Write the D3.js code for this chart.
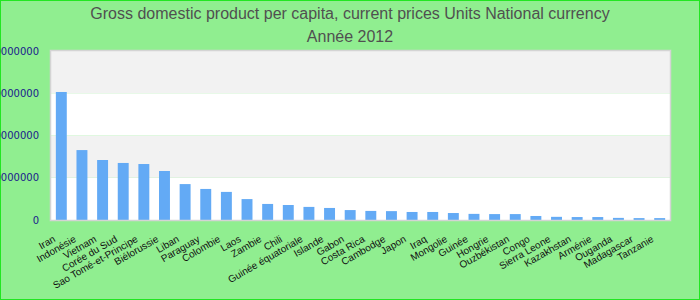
<!DOCTYPE html>
<html>
<head>
<meta charset="utf-8">
<script src="https://cdn.jsdelivr.net/npm/d3@7"></script>
<style>
  body { margin: 0; padding: 0; }
  svg { display: block; }
</style>
</head>
<body>
<div id="chart"></div>
<script>
'use strict';

// chart data
var countries = ["Iran", "Indonésie", "Vietnam", "Corée du Sud", "Sao Tomé-et-Principe",
  "Biélorussie", "Liban", "Paraguay", "Colombie", "Laos", "Zambie", "Chili",
  "Guinée équatoriale", "Islande", "Gabon", "Costa Rica", "Cambodge", "Japon", "Iraq",
  "Mongolie", "Guinée", "Hongrie", "Ouzbékistan", "Congo", "Sierra Leone", "Kazakhstan",
  "Arménie", "Ouganda", "Madagascar", "Tanzanie"];
var gdpValues = [60600000, 33100000, 28400000, 27000000, 26500000,
  23200000, 17000000, 14700000, 13300000, 9900000, 7600000, 7100000,
  6200000, 5700000, 4700000, 4300000, 4200000, 3800000, 3800000,
  3300000, 2900000, 2800000, 2800000, 1900000, 1500000, 1400000,
  1400000, 1000000, 900000, 900000];
var yTicks = [0, 20000000, 40000000, 60000000, 80000000];
var titleLines = ["Gross domestic product per capita, current prices Units National currency", "Année 2012"];

var W = 700, H = 300;
var plot = {left: 51, top: 51, right: 670, bottom: 220};

var svg = d3.select("#chart").append("svg")
  .attr("width", W)
  .attr("height", H);

// page background + border
svg.append("rect")
  .attr("x", 0.5).attr("y", 0.5)
  .attr("width", W - 1).attr("height", H - 1)
  .attr("fill", "#90ee90")
  .attr("stroke", "#22e622")
  .attr("stroke-width", 1);

// title
svg.append("g").selectAll("text")
  .data(titleLines)
  .enter().append("text")
    .attr("x", 350)
    .attr("y", function(d, i) { return 19 + i * 23; })
    .attr("text-anchor", "middle")
    .attr("font-family", "Arial, 'Liberation Sans', sans-serif")
    .attr("font-size", 16)
    .attr("fill", "#505050")
    .text(function(d) { return d; });

// scales
var x = d3.scaleBand()
  .domain(countries)
  .range([plot.left, plot.right])
  .paddingInner(0.47)
  .paddingOuter(0.235);

var y = d3.scaleLinear()
  .domain([0, 80000000])
  .range([plot.bottom, plot.top]);

// alternating bands
var bands = d3.pairs(yTicks);
svg.append("g").selectAll("rect")
  .data(bands)
  .enter().append("rect")
    .attr("x", plot.left)
    .attr("y", function(d) { return y(d[1]); })
    .attr("width", plot.right - plot.left)
    .attr("height", function(d) { return y(d[0]) - y(d[1]); })
    .attr("fill", function(d, i) { return i % 2 === 0 ? "#ffffff" : "#f2f2f2"; });

// bars
svg.append("g").selectAll("rect")
  .data(gdpValues)
  .enter().append("rect")
    .attr("x", function(d, i) { return x(countries[i]); })
    .attr("y", function(d) { return y(d); })
    .attr("width", x.bandwidth())
    .attr("height", function(d) { return y(0) - y(d); })
    .attr("fill", "#63aaf5");

// plot frame
svg.append("rect")
  .attr("x", plot.left - 0.5)
  .attr("y", plot.top - 0.5)
  .attr("width", plot.right - plot.left + 1)
  .attr("height", plot.bottom - plot.top + 1)
  .attr("fill", "none")
  .attr("stroke", "#d4d4d4")
  .attr("stroke-width", 1.5);

// y axis
var yAxis = svg.append("g")
  .attr("transform", "translate(" + plot.left + ",0)")
  .call(d3.axisLeft(y).tickValues(yTicks).tickFormat(d3.format("d")).tickSize(0).tickPadding(12));
yAxis.select(".domain").remove();
yAxis.selectAll("text")
  .attr("font-family", "'DejaVu Sans', Verdana, sans-serif")
  .attr("font-size", 10)
  .attr("fill", "#1a1a8c");

// x axis
var xAxis = svg.append("g")
  .attr("transform", "translate(0," + plot.bottom + ")")
  .call(d3.axisBottom(x).tickSize(0));
xAxis.select(".domain").remove();
xAxis.selectAll("text")
  .attr("y", 0)
  .attr("dy", "0.35em")
  .attr("transform", "translate(-7,18) rotate(-30)")
  .attr("text-anchor", "end")
  .attr("font-family", "Arial, 'Liberation Sans', sans-serif")
  .attr("font-size", 10)
  .attr("fill", "#111");
</script>
</body>
</html>
